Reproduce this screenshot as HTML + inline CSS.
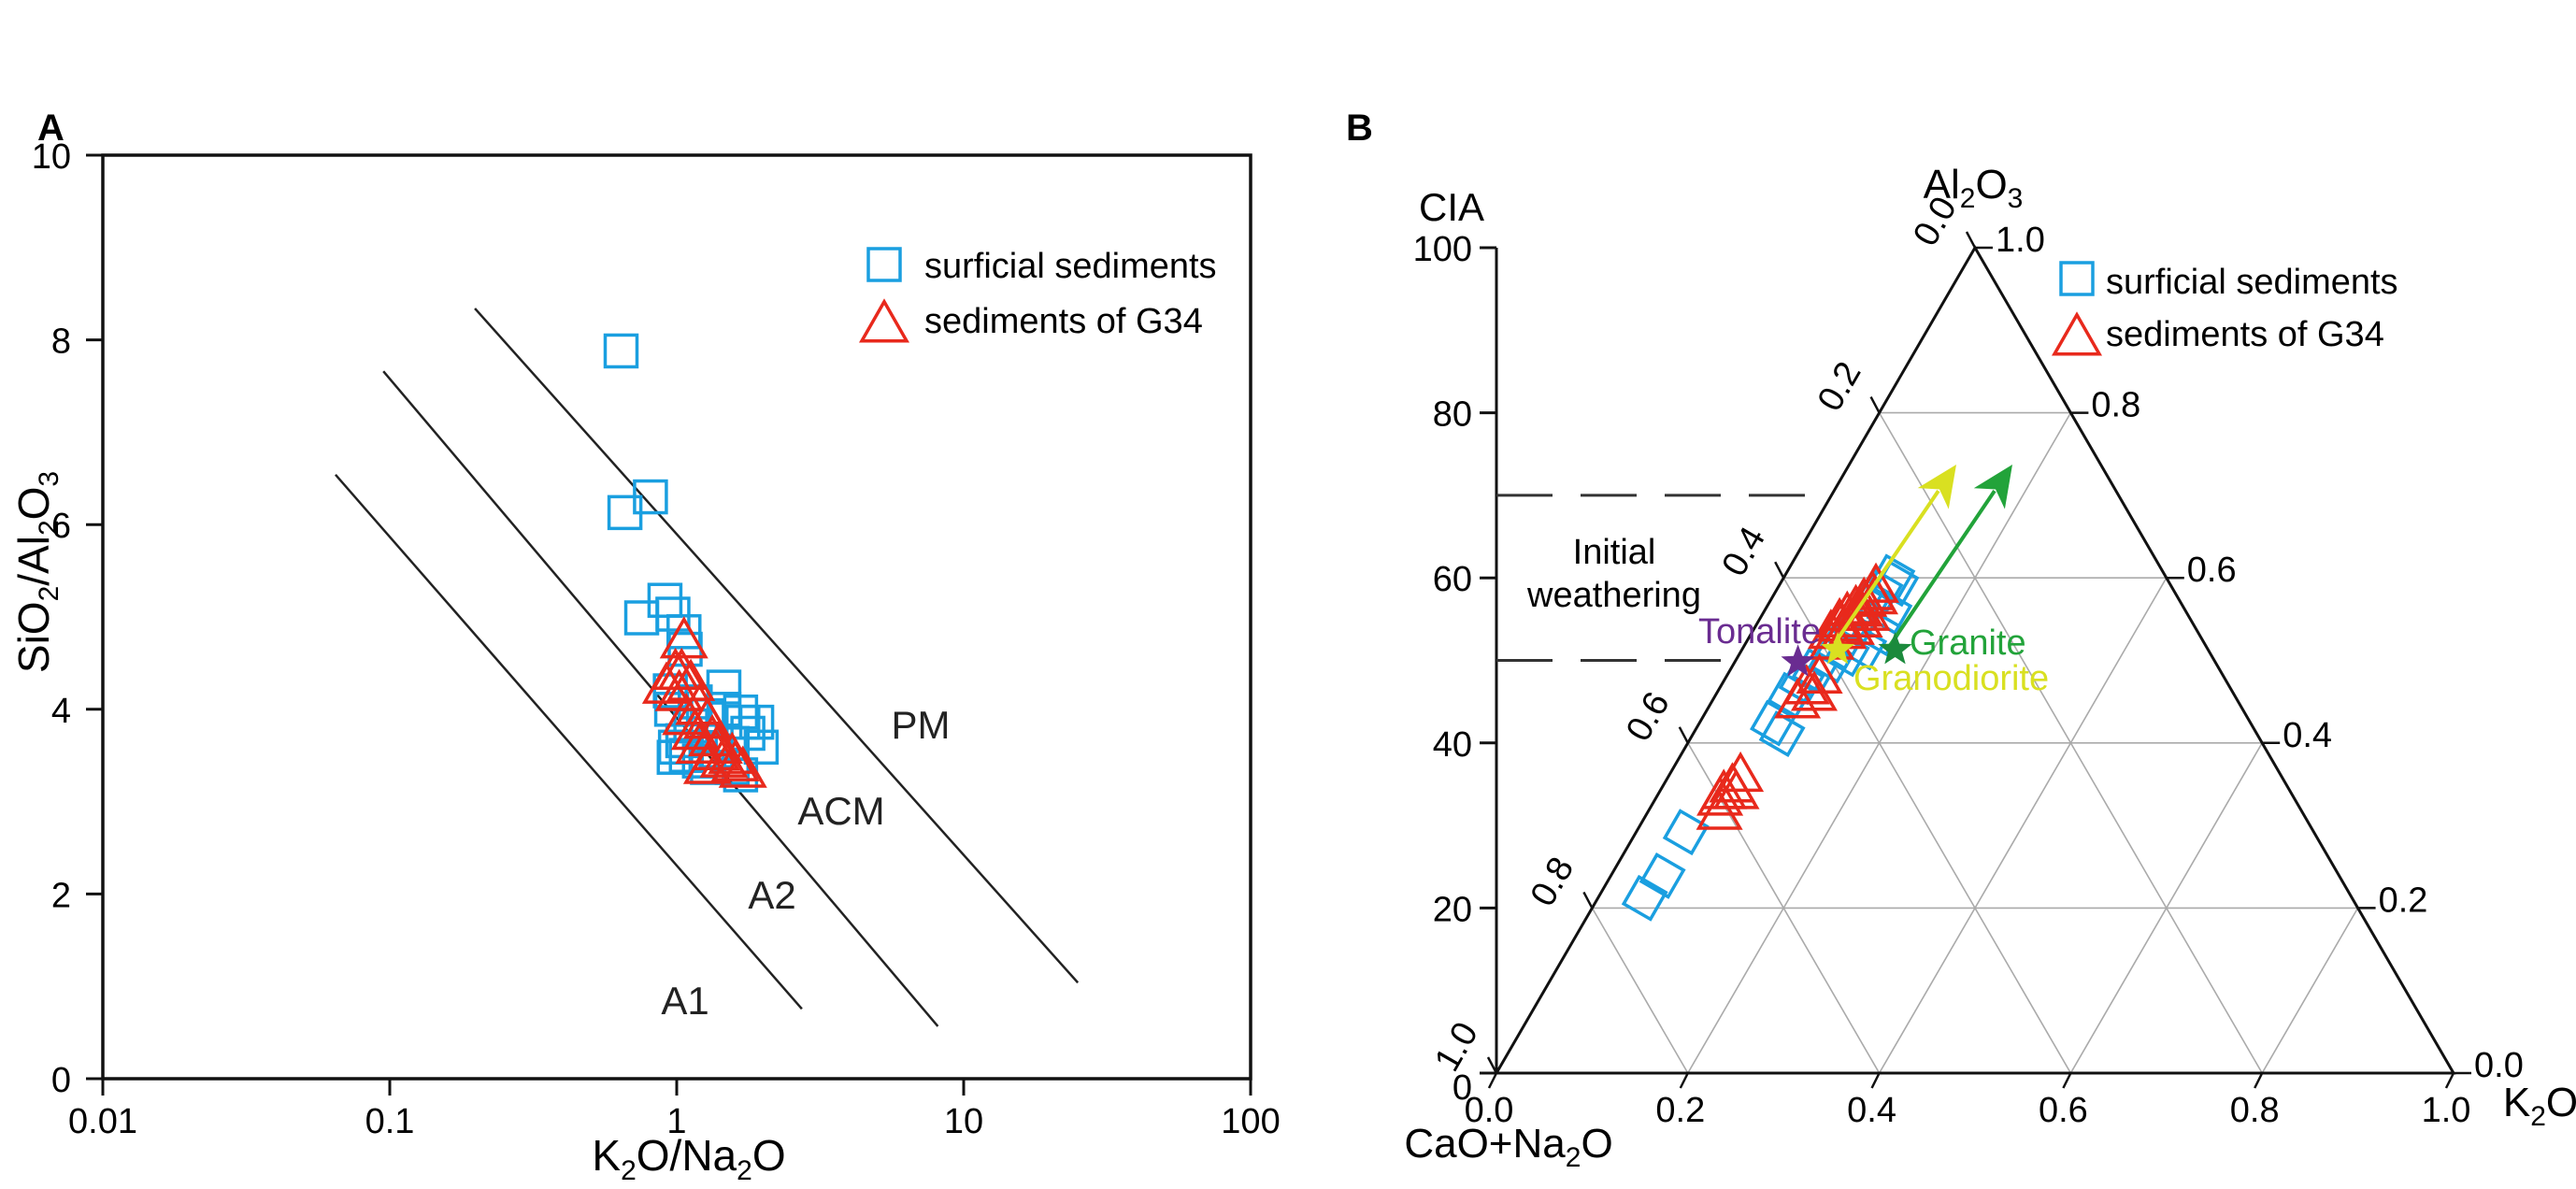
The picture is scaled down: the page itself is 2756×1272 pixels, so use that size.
<!DOCTYPE html>
<html><head><meta charset="utf-8"><style>
html,body{margin:0;padding:0;background:#fff;}
svg{display:block;font-family:"Liberation Sans",Arial,sans-serif;}
</style></head><body>
<svg id="fig" width="2756" height="1272" viewBox="0 0 2756 1272" xmlns="http://www.w3.org/2000/svg">
<g id="panelA"></g>
<g id="panelB"></g>
</svg>
<script>
// ---- Panel A data ----
const aXTicks = [0.01, 0.1, 1, 10, 100];
const aXTickLabels = ["0.01", "0.1", "1", "10", "100"];
const aYTicks = [0, 2, 4, 6, 8, 10];
const aSurfX = [0.64,0.81,0.66,0.755,0.91,0.97,1.06,1.07,0.95,1.46,0.96,0.99,0.98,1.12,1.28,1.46,1.67,1.9,1.97,1.77,1.56,1.37,1.20,1.56,1.67,1.28,1.05,1.16,1.08,1.7];
const aSurfY = [7.88,6.30,6.13,4.99,5.18,5.03,4.84,4.65,4.2,4.24,4.0,3.59,3.48,3.82,3.93,4.0,3.97,3.86,3.59,3.74,3.63,3.55,3.44,3.37,3.29,3.37,3.66,4.08,3.5,3.86];
const aG34X = [1.06,0.99,0.92,1.04,1.12,1.02,1.2,1.28,1.16,1.33,1.37,1.46,1.6,1.28,1.7,1.4,1.56,1.2,1.08];
const aG34Y = [4.73,4.39,4.24,4.39,4.27,4.16,4.01,3.86,3.74,3.67,3.52,3.44,3.40,3.37,3.33,3.59,3.48,3.59,3.9];
const aLineNames = ["A1", "ACM", "PM"];
const aLineX1 = [0.0647, 0.095, 0.198];
const aLineY1 = [6.54, 7.66, 8.34];
const aLineX2 = [2.73, 8.13, 25.0];
const aLineY2 = [0.756, 0.567, 1.04];

// ---- Panel B data ----
const bCiaTicks = [0, 20, 40, 60, 80, 100];
const bFracTicks = [0, 0.2, 0.4, 0.6, 0.8, 1.0];
const bCiaDashed = [70, 50];
const bSurfA = [0.212,0.239,0.292,0.424,0.411,0.458,0.474,0.487,0.50,0.508,0.516,0.533,0.559,0.593,0.601,0.584,0.567,0.542,0.516];
const bSurfK = [0.049,0.054,0.052,0.077,0.093,0.078,0.082,0.089,0.1,0.112,0.126,0.135,0.131,0.121,0.113,0.109,0.104,0.104,0.1];
const bG34A = [0.314,0.339,0.347,0.360,0.331,0.339,0.449,0.466,0.479,0.458,0.533,0.547,0.555,0.563,0.572,0.58,0.589,0.533,0.547,0.542,0.555,0.538,0.52,0.56,0.575];
const bG34K = [0.076,0.068,0.073,0.075,0.068,0.081,0.09,0.091,0.098,0.103,0.083,0.085,0.089,0.094,0.098,0.103,0.102,0.096,0.106,0.088,0.11,0.102,0.09,0.1,0.108];
const bRockNames = ["Tonalite", "Granodiorite", "Granite"];
const bRockA = [0.498, 0.513, 0.513];
const bRockK = [0.066, 0.1, 0.16];

const NS = "http://www.w3.org/2000/svg";
function mk(tag, attrs, parent, text) {
  const e = document.createElementNS(NS, tag);
  for (const k in attrs) e.setAttribute(k, attrs[k]);
  if (text !== undefined) e.textContent = text;
  parent.appendChild(e);
  return e;
}
const BLUE = "#1a9fe0", RED = "#e8291c";
const TF = 38;

// ===== Panel A =====
const A = document.getElementById("panelA");
const ax0 = 110, ax1 = 1338, ay0 = 1154, ay1 = 166;
const xA = v => ax0 + (Math.log10(v) + 2) / 4 * (ax1 - ax0);
const yA = v => ay0 - v / 10 * (ay0 - ay1);

let t = mk("text", {x: 40, y: 150, "font-size": 40, "font-weight": "bold"}, document.getElementById("fig"), "A");


t = mk("text", {x: 1440, y: 150, "font-size": 40, "font-weight": "bold"}, document.getElementById("fig"), "B");



let fr = mk("rect", {x: ax0, y: ay1, width: ax1 - ax0, height: ay0 - ay1, fill: "none", stroke: "#111", "stroke-width": 3.5}, A);



aXTicks.forEach((v, i) => {
  const x = xA(v);
  const l = mk("line", {x1: x, y1: ay0, x2: x, y2: ay0 + 18, stroke: "#111", "stroke-width": 3}, A);
  
  
  const tx = mk("text", {x: x, y: ay0 + 58, "font-size": TF, "text-anchor": "middle"}, A, aXTickLabels[i]);
  
  
});
aYTicks.forEach(v => {
  const y = yA(v);
  const l = mk("line", {x1: ax0 - 18, y1: y, x2: ax0, y2: y, stroke: "#111", "stroke-width": 3}, A);
  
  
  const tx = mk("text", {x: ax0 - 34, y: y + 14, "font-size": TF, "text-anchor": "end"}, A, String(v));
  
  
});
let xt = mk("text", {x: 737, y: 1252, "font-size": 46, "text-anchor": "middle"}, A);


xt.innerHTML = 'K<tspan font-size="30" dy="10">2</tspan><tspan dy="-10">O/Na</tspan><tspan font-size="30" dy="10">2</tspan><tspan dy="-10">O</tspan>';
let yt = mk("text", {x: 0, y: 0, "font-size": 46, "text-anchor": "middle", transform: "translate(52,612) rotate(-90)"}, A);


yt.innerHTML = 'SiO<tspan font-size="30" dy="10">2</tspan><tspan dy="-10">/Al</tspan><tspan font-size="30" dy="10">2</tspan><tspan dy="-10">O</tspan><tspan font-size="30" dy="10">3</tspan>';

aLineNames.forEach((n, i) => {
  const l = mk("line", {x1: xA(aLineX1[i]), y1: yA(aLineY1[i]), x2: xA(aLineX2[i]), y2: yA(aLineY2[i]), stroke: "#222", "stroke-width": 2.5}, A);
  
  
});
[["PM", 985, 790], ["ACM", 900, 882], ["A2", 826, 972], ["A1", 733, 1085]].forEach(d => {
  const tx = mk("text", {x: d[1], y: d[2], "font-size": 42, fill: "#222", "text-anchor": "middle"}, A, d[0]);
  
  
});

function square(parent, cx, cy, s, rot) {
  return mk("rect", {x: cx - s / 2, y: cy - s / 2, width: s, height: s, fill: "none", stroke: BLUE, "stroke-width": 3.5, transform: rot ? `rotate(${rot} ${cx} ${cy})` : ""}, parent);
}
function tri(parent, cx, cy, w, h) {
  return mk("polygon", {points: `${cx},${cy - h * 0.6} ${cx - w / 2},${cy + h * 0.4} ${cx + w / 2},${cy + h * 0.4}`, fill: "none", stroke: RED, "stroke-width": 3.5}, parent);
}
aSurfX.forEach((v, i) => {
  const r = square(A, xA(v), yA(aSurfY[i]), 34, 0);
  
  
});
aG34X.forEach((v, i) => {
  const p = tri(A, xA(v), yA(aG34Y[i]), 46, 40);
  
  
});
let lg = mk("g", {}, A);


let ls = square(lg, 946, 283, 34, 0);


let lt = mk("text", {x: 989, y: 297, "font-size": 38}, lg, "surficial sediments");


let lp = tri(lg, 946, 348, 48, 42);


lt = mk("text", {x: 989, y: 356, "font-size": 38}, lg, "sediments of G34");



// ===== Panel B =====
const B = document.getElementById("panelB");
const BLx = 1601, BLy = 1148, W = 1024, H = 883;
const pt = (a, k) => [BLx + k * W + a * W / 2, BLy - a * H];
const yCIA = v => BLy - v / 100 * H;

bFracTicks.slice(1, 5).forEach(f => {
  let p1 = pt(f, 0), p2 = pt(f, 1 - f);
  let l = mk("line", {x1: p1[0], y1: p1[1], x2: p2[0], y2: p2[1], stroke: "#aaa", "stroke-width": 1.6}, B);
  
  
  p1 = pt(0, f); p2 = pt(1 - f, f);
  l = mk("line", {x1: p1[0], y1: p1[1], x2: p2[0], y2: p2[1], stroke: "#aaa", "stroke-width": 1.6}, B);
  
  
  p1 = pt(0, 1 - f); p2 = pt(1 - f, 0);
  l = mk("line", {x1: p1[0], y1: p1[1], x2: p2[0], y2: p2[1], stroke: "#aaa", "stroke-width": 1.6}, B);
  
  
});
const v0 = pt(0, 0), v1 = pt(1, 0), v2 = pt(0, 1);
let triOut = mk("polygon", {points: `${v0} ${v1} ${v2}`, fill: "none", stroke: "#111", "stroke-width": 3}, B);



let cia = mk("line", {x1: BLx, y1: BLy, x2: BLx, y2: yCIA(100), stroke: "#111", "stroke-width": 3}, B);


bCiaTicks.forEach(v => {
  const y = yCIA(v);
  const l = mk("line", {x1: BLx - 18, y1: y, x2: BLx, y2: y, stroke: "#111", "stroke-width": 3}, B);
  
  
  const tx = mk("text", {x: BLx - 26, y: y + 14 + (v === 0 ? 14 : 0), "font-size": TF, "text-anchor": "end"}, B, String(v));
  
  
});
let ct = mk("text", {x: 1553, y: 236, "font-size": 42, "text-anchor": "middle"}, B, "CIA");


bCiaDashed.forEach(v => {
  const y = yCIA(v);
  const a = v / 100;
  const l = mk("line", {x1: BLx, y1: y, x2: pt(a, 0)[0], y2: y, stroke: "#333", "stroke-width": 3, "stroke-dasharray": "60 30"}, B);
  
  
});
let iw = mk("text", {x: 1727, y: 603, "font-size": 38, "text-anchor": "middle"}, B, "Initial");


iw = mk("text", {x: 1727, y: 649, "font-size": 38, "text-anchor": "middle"}, B, "weathering");



bFracTicks.forEach(f => {
  let p = pt(f, 1 - f);
  let l = mk("line", {x1: p[0], y1: p[1], x2: p[0] + 19, y2: p[1], stroke: "#111", "stroke-width": 2.5}, B);
  
  
  let tx = mk("text", {x: p[0] + 22, y: p[1] + 4, "font-size": TF}, B, f.toFixed(1));
  
  
  p = pt(0, f);
  l = mk("line", {x1: p[0], y1: p[1], x2: p[0] - 8, y2: p[1] + 16, stroke: "#111", "stroke-width": 2.5}, B);
  
  
  tx = mk("text", {x: p[0] - 8, y: p[1] + 52, "font-size": TF, "text-anchor": "middle"}, B, f.toFixed(1));
  
  
  p = pt(1 - f, 0);
  l = mk("line", {x1: p[0], y1: p[1], x2: p[0] - 9, y2: p[1] - 17, stroke: "#111", "stroke-width": 2.5}, B);
  
  
  tx = mk("text", {x: 0, y: 0, "font-size": TF, "text-anchor": "middle", transform: `translate(${p[0] - 32},${p[1] - 22}) rotate(-60)`}, B, f.toFixed(1));
  
  
});
let alt = mk("text", {x: 2111, y: 212, "font-size": 44, "text-anchor": "middle"}, B);


alt.innerHTML = 'Al<tspan font-size="30" dy="10">2</tspan><tspan dy="-10">O</tspan><tspan font-size="30" dy="10">3</tspan>';
let kt = mk("text", {x: 2718, y: 1194, "font-size": 44, "text-anchor": "middle"}, B);


kt.innerHTML = 'K<tspan font-size="30" dy="10">2</tspan><tspan dy="-10">O</tspan>';
let cnt = mk("text", {x: 1614, y: 1238, "font-size": 44, "text-anchor": "middle"}, B);


cnt.innerHTML = 'CaO+Na<tspan font-size="30" dy="10">2</tspan><tspan dy="-10">O</tspan>';

bSurfA.forEach((a, i) => {
  const p = pt(a, bSurfK[i]);
  const r = square(B, p[0], p[1], 33, 30);
  
  
});
bG34A.forEach((a, i) => {
  const p = pt(a, bG34K[i]);
  const r = tri(B, p[0], p[1], 44, 38);
  
  
});

function arrow(x1, y1, x2, y2, col, name) {
  const g = mk("g", {}, B);
  
  
  const dx = x2 - x1, dy = y2 - y1, L = Math.hypot(dx, dy), ux = dx / L, uy = dy / L;
  const hl = 44, hw = 20;
  const bx = x2 - ux * hl, by = y2 - uy * hl;
  mk("line", {x1: x1, y1: y1, x2: bx + ux * 10, y2: by + uy * 10, stroke: col, "stroke-width": 4}, g);
  mk("polygon", {points: `${x2},${y2} ${bx - uy * hw},${by + ux * hw} ${bx + ux * 12},${by + uy * 12} ${bx + uy * hw},${by - ux * hw}`, fill: col}, g);
}
arrow(1963, 688, 2093, 497, "#d9e021", "granodiorite-trend-arrow");
arrow(2021, 692, 2153, 497, "#22a33a", "granite-trend-arrow");

function star(cx, cy, r, col) {
  let pts = [];
  for (let i = 0; i < 10; i++) {
    const ang = -Math.PI / 2 + i * Math.PI / 5, rr = i % 2 ? r * 0.42 : r;
    pts.push((cx + rr * Math.cos(ang)).toFixed(1) + "," + (cy + rr * Math.sin(ang)).toFixed(1));
  }
  return mk("polygon", {points: pts.join(" "), fill: col}, B);
}
const rockCols = ["#6a2c91", "#d9e021", "#1b8a3c"];
bRockNames.forEach((n, i) => {
  const p = pt(bRockA[i], bRockK[i]);
  const s = star(p[0], p[1], 19, rockCols[i]);
  
  
});
[["Tonalite", 1948, 688, "end", "#6a2c91"], ["Granodiorite", 1983, 738, "start", "#d9e021"], ["Granite", 2043, 700, "start", "#22a33a"]].forEach(d => {
  const tx = mk("text", {x: d[1], y: d[2], "font-size": 38, "text-anchor": d[3], fill: d[4]}, B, d[0]);
  
  
});

lg = mk("g", {}, B);


ls = square(lg, 2222, 298, 34, 0);


lt = mk("text", {x: 2253, y: 314, "font-size": 38}, lg, "surficial sediments");


lp = tri(lg, 2222, 362, 48, 42);


lt = mk("text", {x: 2253, y: 370, "font-size": 38}, lg, "sediments of G34");


</script>
</body></html>
